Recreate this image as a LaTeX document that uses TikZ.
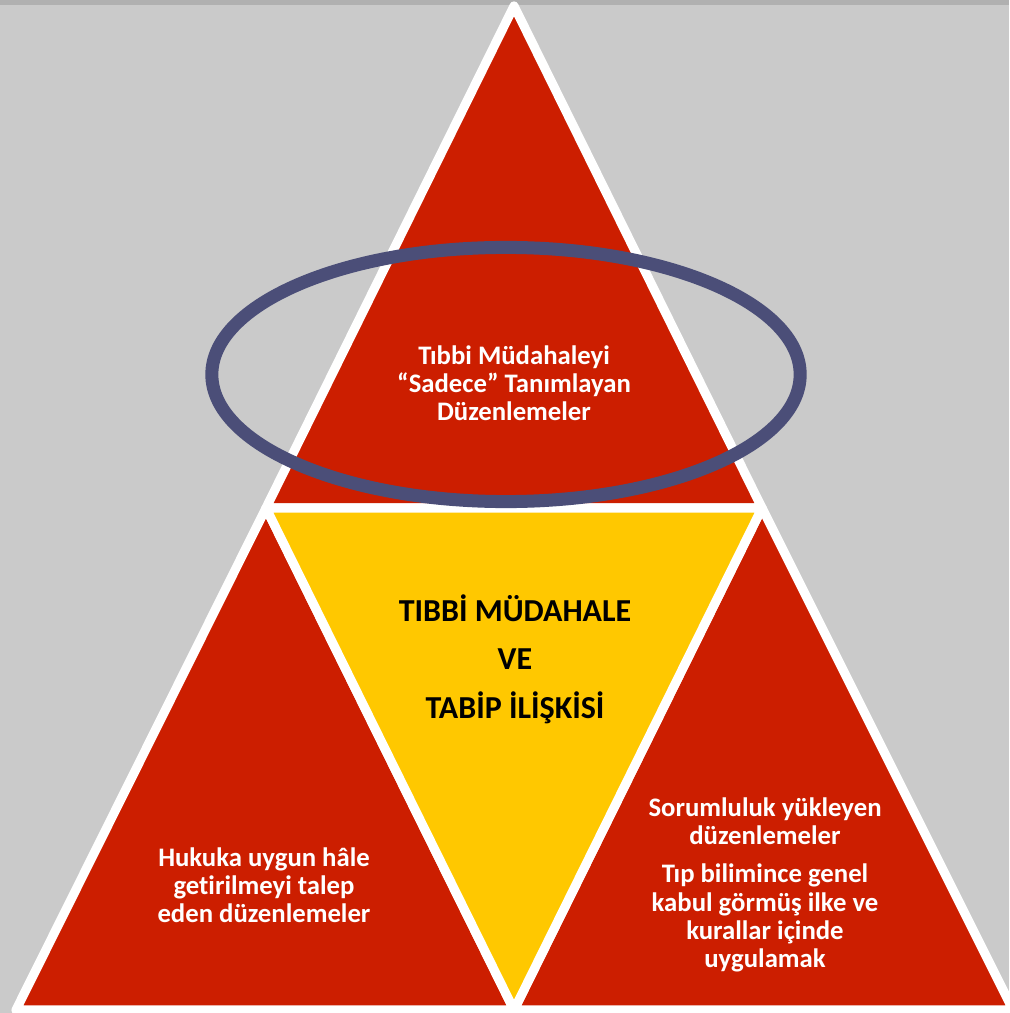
\documentclass[tikz,border=0pt]{standalone}
\usepackage{fontspec}
\setmainfont{Carlito}[Ligatures=NoCommon]
\definecolor{bgGray}{RGB}{202,202,202}
\definecolor{bandGray}{RGB}{176,176,176}
\definecolor{pyrRed}{RGB}{204,30,0}
\definecolor{pyrYellow}{RGB}{255,200,0}
\definecolor{ringBlue}{RGB}{75,78,120}
\tikzset{
  % one piece of the pyramid, white seams between pieces
  piece/.style={fill=#1,draw=white,line width=2.6pt,line join=round},
  % white bold labels on the red pieces
  redtext/.style={text=white,align=center,font=\bfseries\fontsize{7.6}{8}\selectfont},
  % black bold label in the middle
  midtext/.style={text=black,align=center,font=\bfseries\fontsize{9.1}{13.8}\selectfont},
}

\begin{document}
\begin{tikzpicture}[x=0.01cm,y=-0.01cm]
\useasboundingbox (0,0) rectangle (1009,1013);
\fill[bgGray] (0,0) rectangle (1009,1013);
\fill[bandGray] (0,0) rectangle (1009,5);
\coordinate (A) at (514,6);
\coordinate (B) at (16,1010);
\coordinate (C) at (1013,1010);
\coordinate (L) at (266,508);
\coordinate (R) at (762,508);
\coordinate (M) at (514,1010);
\path[piece=pyrRed] (A)--(L)--(R)--cycle;
\path[piece=pyrRed] (L)--(B)--(M)--cycle;
\path[piece=pyrRed] (R)--(M)--(C)--cycle;
\path[piece=pyrYellow] (L)--(R)--(M)--cycle;
\draw[ringBlue,line width=3.7pt] (506,374.5) ellipse [x radius=2.94cm,y radius=1.27cm];
\node[redtext] (top) at (514,383) {Tıbbi Müdahaleyi\\“Sadece” Tanımlayan\\Düzenlemeler};
\node[midtext] (mid) at (515,659) {TIBBİ MÜDAHALE\\VE\\TABİP İLİŞKİSİ};
\node[redtext] (left) at (264,885) {Hukuka uygun hâle\\getirilmeyi talep\\eden düzenlemeler};
\node[redtext] (right) at (765,885) {Sorumluluk yükleyen\\düzenlemeler\\[2.8pt]Tıp bilimince genel\\kabul görmüş ilke ve\\kurallar içinde\\uygulamak};
\end{tikzpicture}
\end{document}
